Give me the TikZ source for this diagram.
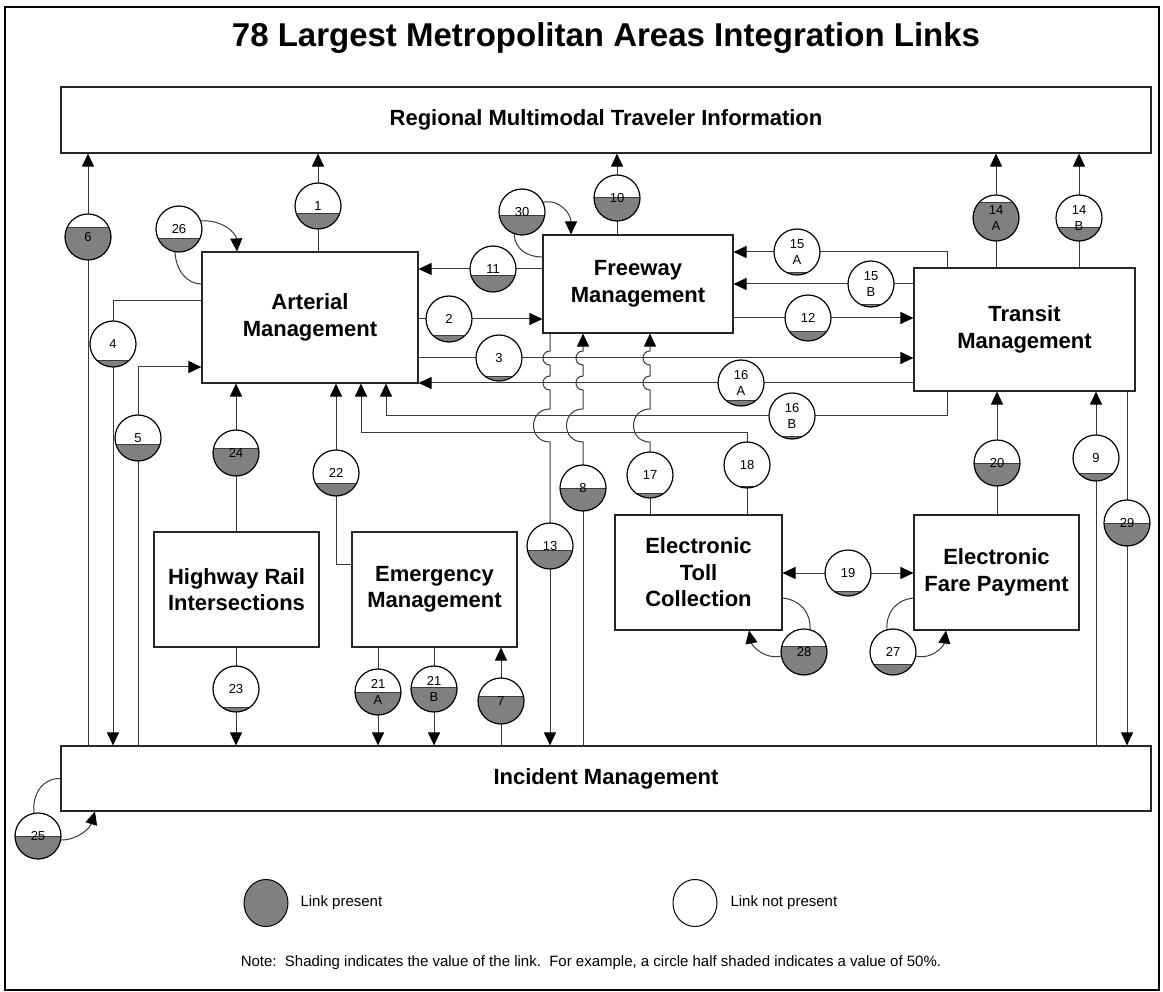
\documentclass[tikz,border=0pt]{standalone}
\usepackage{fontspec}
\setmainfont{Liberation Sans}
\usetikzlibrary{arrows.meta,shapes.geometric}
\pgfdeclarelayer{bg}
\pgfsetlayers{bg,main}
\definecolor{lkgray}{HTML}{808080}
\definecolor{lnc}{HTML}{3A3A3A}
\tikzset{
  box/.style={draw=black!85, line width=1.1pt, fill=white, align=center, inner sep=0pt, font=\bfseries\fontsize{22}{26.5}\selectfont},
  ln/.style={draw=lnc, line width=1pt},
  arr/.style={ln, -{Triangle[length=13pt,width=12pt,black]}},
  lkc/.style={circle, minimum size=46pt, inner sep=0pt, fill=white},
  lkt/.style={font=\fontsize{13}{16}\selectfont, align=center, inner sep=0pt},
  hop/.style n args={3}{insert path={-- (#1,#2) .. controls ({#1-0.6667*abs(#2-#3)},#2) and ({#1-0.6667*abs(#2-#3)},#3) .. (#1,#3)}},
}
\newcommand\linkcirc[5]{%
  \node[lkc] (#1) at (#2,#3) {};
  \begin{scope}
    \clip (#2,#3) circle[radius=23pt];
    \fill[lkgray] ({#2-30},{#3+30}) rectangle ({#2+30},{#3+23-46*#5});
    \draw[lnc, line width=0.9pt] ({#2-30},{#3+23-46*#5}) -- ({#2+30},{#3+23-46*#5});
  \end{scope}
  \draw[line width=1.2pt] (#2,#3) circle[radius=23pt];
  \node[lkt] at (#2,#3) {#4};
}
\newcommand\mkbox[6]{%
  \node[box, minimum width={(#4-#2)*1pt}, minimum height={(#5-#3)*1pt}] (#1) at ({(#2+#4)/2},{(#3+#5)/2}) {#6};
}
\begin{document}
\begin{tikzpicture}[x=1pt,y=-1pt]
\useasboundingbox (0,0) rectangle (1163,992);
\draw[line width=2.5pt] (5,7) rectangle (1159,990);

\node[font=\bfseries\fontsize{33}{40}\selectfont, anchor=base] (title) at (606,47) {78 Largest Metropolitan Areas Integration Links};

% boxes
\mkbox{reg}{61}{87}{1151}{153}{\fontsize{22}{26}\selectfont Regional Multimodal Traveler Information}
\mkbox{art}{202}{252}{418}{383}{Arterial\\Management}
\mkbox{fwy}{543}{235}{733}{333}{Freeway\\Management}
\mkbox{trn}{914}{268}{1135}{391}{Transit\\Management}
\mkbox{hri}{154}{532}{319}{647}{Highway Rail\\Intersections}
\mkbox{emg}{352}{532}{517}{647}{Emergency\\Management}
\mkbox{etc}{615}{515}{782}{630}{Electronic\\Toll\\Collection}
\mkbox{efp}{914}{515}{1079}{630}{Electronic\\Fare Payment}
\mkbox{inc}{61}{746}{1151}{811}{Incident Management}

% link circles
\linkcirc{c1}{318}{206}{1}{0.33}
\linkcirc{c2}{449}{319}{2}{0.15}
\linkcirc{c3}{499}{358}{3}{0.10}
\linkcirc{c4}{113}{344}{4}{0.15}
\linkcirc{c5}{138}{438}{5}{0.37}
\linkcirc{c6}{88}{237}{6}{0.70}
\linkcirc{c7}{501}{701}{7}{0.60}
\linkcirc{c8}{583}{488}{8}{0.50}
\linkcirc{c9}{1096}{458}{9}{0.17}
\linkcirc{c10}{617}{198}{10}{0.52}
\linkcirc{c11}{493}{269}{11}{0.35}
\linkcirc{c12}{808}{318}{12}{0.20}
\linkcirc{c13}{550}{546}{13}{0.41}
\linkcirc{c14A}{996}{218}{14\\A}{0.83}
\linkcirc{c14B}{1079}{218}{14\\B}{0.30}
\linkcirc{c15A}{797}{252}{15\\A}{0.05}
\linkcirc{c15B}{871}{284}{15\\B}{0.05}
\linkcirc{c16A}{741}{383}{16\\A}{0.12}
\linkcirc{c16B}{792}{416}{16\\B}{0.05}
\linkcirc{c17}{650}{475}{17}{0.10}
\linkcirc{c18}{747}{465}{18}{0.04}
\linkcirc{c19}{848}{573}{19}{0.10}
\linkcirc{c20}{997}{463}{20}{0.50}
\linkcirc{c21A}{378}{692}{21\\A}{0.50}
\linkcirc{c21B}{434}{689}{21\\B}{0.53}
\linkcirc{c22}{336}{473}{22}{0.28}
\linkcirc{c23}{236}{689}{23}{0.10}
\linkcirc{c24}{236}{453}{24}{0.60}
\linkcirc{c25}{38}{836}{25}{0.50}
\linkcirc{c26}{179}{229}{26}{0.30}
\linkcirc{c27}{893}{652}{27}{0.24}
\linkcirc{c28}{804}{652}{28}{0.63}
\linkcirc{c29}{1127}{523}{29}{0.50}
\linkcirc{c30}{522}{212}{30}{0.43}

% legend and note
\node[ellipse, draw, line width=1pt, fill=lkgray, minimum width=44pt, minimum height=47pt, inner sep=0pt] (legp) at (266,903) {};
\node[anchor=west, font=\fontsize{15}{18}\selectfont] (legpt) at (297,903) {Link present};
\node[ellipse, draw, line width=1pt, fill=white, minimum width=44pt, minimum height=47pt, inner sep=0pt] (legn) at (695,903) {};
\node[anchor=west, font=\fontsize{15}{18}\selectfont] (legnt) at (727,903) {Link not present};
\node[font=\fontsize{15}{18}\selectfont] (note) at (591,963) {Note:\ \ Shading indicates the value of the link.\ \ For example, a circle half shaded indicates a value of 50\%.};

\begin{pgfonlayer}{bg}
% 1
\draw[ln] (art.north -| c1) -- (c1);
\draw[arr] (c1) -- (reg.south -| c1);
% 2
\draw[ln] (art.east |- c2) -- (c2);
\draw[arr] (c2) -- (fwy.west |- c2);
% 3
\draw[ln] (art.east |- c3) -- (c3);
\draw[arr] (c3) -- (trn.west |- c3);
% 4
\draw[ln] (art.west |- 0,301) -| (c4);
\draw[arr] (c4) -- (inc.north -| c4);
% 5
\draw[ln] (inc.north -| c5) -- (c5);
\draw[arr] (c5) |- (art.west |- 0,367);
% 6
\draw[ln] (inc.north -| c6) -- (c6);
\draw[arr] (c6) -- (reg.south -| c6);
% 7
\draw[ln] (inc.north -| c7) -- (c7);
\draw[arr] (c7) -- (emg.south -| c7);
% 8
\draw[ln] (inc.north -| c8) -- (c8);
\draw[arr] (c8) [hop={583}{442}{409}] [hop={583}{390}{376}] [hop={583}{365}{351}] -- (fwy.south -| c8);
% 9
\draw[ln] (inc.north -| c9) -- (c9);
\draw[arr] (c9) -- (trn.south -| c9);
% 10
\draw[ln] (fwy.north -| c10) -- (c10);
\draw[arr] (c10) -- (reg.south -| c10);
% 11
\draw[ln] (fwy.west |- c11) -- (c11);
\draw[arr] (c11) -- (art.east |- c11);
% 12
\draw[ln] (fwy.east |- c12) -- (c12);
\draw[arr] (c12) -- (trn.west |- c12);
% 13
\draw[ln] (fwy.south -| c13) [hop={550}{351}{365}] [hop={550}{376}{390}] [hop={550}{409}{442}] -- (c13);
\draw[arr] (c13) -- (inc.north -| c13);
% 14
\draw[ln] (trn.north -| c14A) -- (c14A);
\draw[arr] (c14A) -- (reg.south -| c14A);
\draw[ln] (trn.north -| c14B) -- (c14B);
\draw[arr] (c14B) -- (reg.south -| c14B);
% 15
\draw[ln] (trn.north -| 947,0) |- (c15A);
\draw[arr] (c15A) -- (fwy.east |- c15A);
\draw[ln] (trn.west |- c15B) -- (c15B);
\draw[arr] (c15B) -- (fwy.east |- c15B);
% 16
\draw[ln] (trn.west |- c16A) -- (c16A);
\draw[arr] (c16A) -- (art.east |- c16A);
\draw[ln] (trn.south -| 947,0) |- (c16B);
\draw[arr] (c16B) -| (art.south -| 386,0);
% 17
\draw[ln] (etc.north -| c17) -- (c17);
\draw[arr] (c17) [hop={650}{442}{409}] [hop={650}{390}{376}] [hop={650}{365}{351}] -- (fwy.south -| c17);
% 18
\draw[ln] (etc.north -| c18) -- (c18);
\draw[arr] (c18) |- (361,433) -- (art.south -| 361,0);
% 19
\draw[arr] (c19) -- (etc.east |- c19);
\draw[arr] (c19) -- (efp.west |- c19);
% 20
\draw[ln] (efp.north -| c20) -- (c20);
\draw[arr] (c20) -- (trn.south -| c20);
% 21
\draw[ln] (emg.south -| c21A) -- (c21A);
\draw[arr] (c21A) -- (inc.north -| c21A);
\draw[ln] (emg.south -| c21B) -- (c21B);
\draw[arr] (c21B) -- (inc.north -| c21B);
% 22
\draw[ln] (emg.west |- 0,564) -| (c22);
\draw[arr] (c22) -- (art.south -| c22);
% 23
\draw[ln] (hri.south -| c23) -- (c23);
\draw[arr] (c23) -- (inc.north -| c23);
% 24
\draw[ln] (hri.north -| c24) -- (c24);
\draw[arr] (c24) -- (art.south -| c24);
% 25
\draw[ln] (c25.100) .. controls (32,792) and (44,778) .. (inc.west);
\draw[arr] (c25.-10) .. controls (78,840) and (90,828) .. (inc.south -| 95,0);
% 26
\draw[arr] (c26.20) .. controls (220,219) and (236,232) .. (art.north -| 237,0);
\draw[ln] (c26.260) .. controls (176,272) and (188,284) .. (art.west |- 0,284);
% 27
\draw[ln] (efp.west |- 0,598) .. controls (896,600) and (886,612) .. (c27.105);
\draw[arr] (c27.-10) .. controls (932,660) and (944,646) .. (efp.south -| 946,0);
% 28
\draw[ln] (etc.east |- 0,598) .. controls (800,600) and (811,612) .. (c28.75);
\draw[arr] (c28.190) .. controls (765,660) and (752,646) .. (etc.south -| 749,0);
% 29
\draw[ln] (trn.south -| c29) -- (c29);
\draw[arr] (c29) -- (inc.north -| c29);
% 30
\draw[arr] (c30.25) .. controls (560,199) and (571,214) .. (fwy.north -| 571,0);
\draw[ln] (c30.250) .. controls (515,250) and (528,257) .. (fwy.west |- 0,257);
\end{pgfonlayer}
\end{tikzpicture}
\end{document}
